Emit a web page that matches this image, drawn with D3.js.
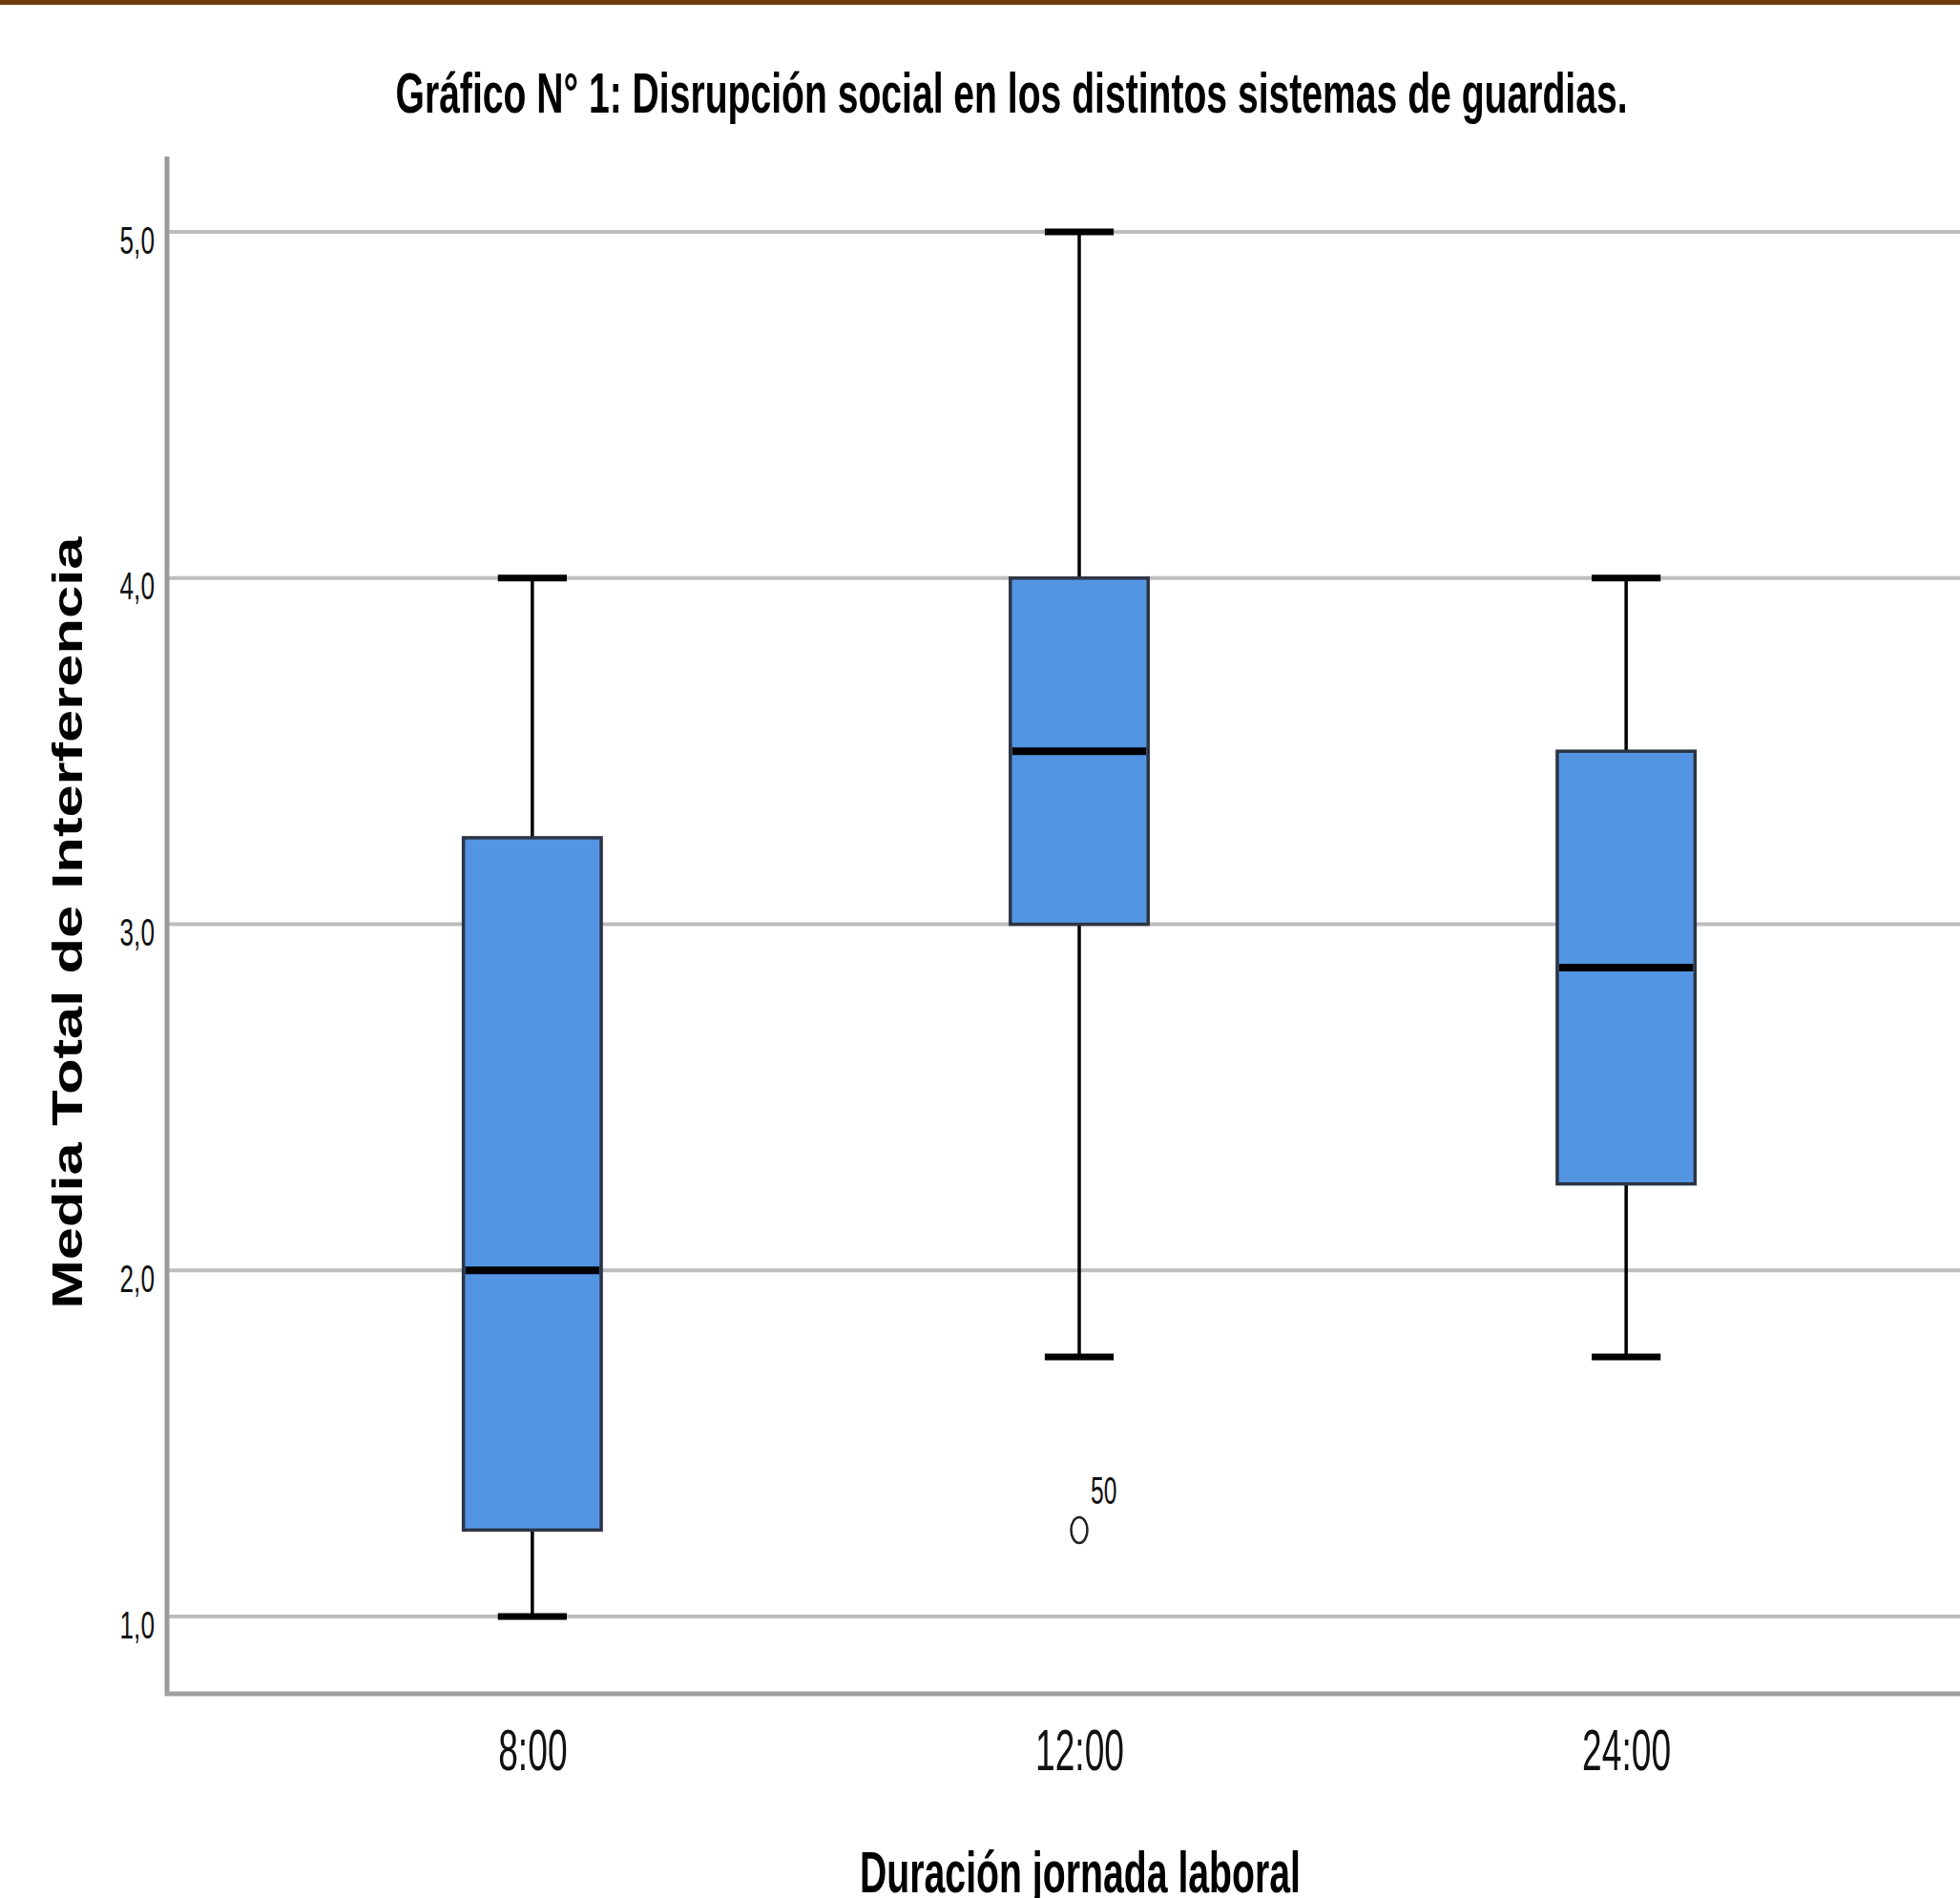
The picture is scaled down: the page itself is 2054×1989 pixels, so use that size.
<!DOCTYPE html>
<html><head><meta charset="utf-8">
<script src="https://cdn.jsdelivr.net/npm/d3@7"></script>
<style>html,body{margin:0;padding:0;background:#fff;overflow:hidden}</style>
</head><body>
<script>
// ---- data ----
const categories = ["8:00", "12:00", "24:00"];
const whiskerLow  = [1.0, 1.75, 1.75];
const q1          = [1.25, 3.0, 2.25];
const median      = [2.0, 3.5, 2.875];
const q3          = [3.25, 4.0, 3.5];
const whiskerHigh = [4.0, 5.0, 4.0];
const outlierCat   = ["12:00"];
const outlierValue = [1.25];
const outlierLabel = ["50"];
const yTicks = [1, 2, 3, 4, 5];
const titleText = "Gráfico N° 1: Disrupción social en los distintos sistemas de guardias.";
const xTitle = "Duración jornada laboral";
const yTitle = "Media Total de Interferencia";

const W = 2054, H = 1989;
const svg = d3.select("body").append("svg").attr("width", W).attr("height", H);
const FONT = "'Liberation Sans', Arial, sans-serif";

// top brown rule
svg.append("rect").attr("x", 0).attr("y", 0).attr("width", W).attr("height", 5).attr("fill", "#6e3b0e");

const x = d3.scalePoint().domain(categories).range([175, 2087]).padding(0.668);
const y = d3.scaleLinear().domain([0.777, 5.218]).range([1775, 164]);
const boxW = x.step() * 0.252;
const capW = boxW * 0.5;

const loc = d3.formatLocale({decimal: ",", thousands: ".", grouping: [3], currency: ["", "€"]});
const fmt = loc.format(".1f");

function condense(sel, factor) {
  sel.each(function() {
    const w = this.getComputedTextLength();
    d3.select(this).attr("textLength", w * factor).attr("lengthAdjust", "spacingAndGlyphs");
  });
}

// gridlines
svg.append("g").selectAll("line").data(yTicks).join("line")
  .attr("x1", 177).attr("x2", W)
  .attr("y1", d => y(d)).attr("y2", d => y(d))
  .attr("stroke", "#bdbdbd").attr("stroke-width", 4);

// y axis
const gy = svg.append("g").attr("transform", "translate(175,0)")
  .call(d3.axisLeft(y).tickValues(yTicks).tickFormat(fmt).tickSize(0).tickPadding(13));
gy.select(".domain").remove();
gy.selectAll("text").attr("font-family", FONT).attr("font-size", 41).attr("fill", "#111").attr("dy", 22)
  .call(condense, 0.64);

// x axis
const gx = svg.append("g").attr("transform", "translate(0,1775)")
  .call(d3.axisBottom(x).tickSize(0));
gx.select(".domain").remove();
gx.selectAll("text").attr("font-family", FONT).attr("font-size", 62).attr("fill", "#111").attr("y", 80).attr("dy", 0)
  .call(condense, 0.6);

// axis lines
svg.append("line").attr("x1", 175).attr("x2", 175).attr("y1", 164).attr("y2", 1777)
  .attr("stroke", "#9a9a9a").attr("stroke-width", 5);
svg.append("line").attr("x1", 173).attr("x2", W).attr("y1", 1775).attr("y2", 1775)
  .attr("stroke", "#a0a0a0").attr("stroke-width", 5);

// boxes
const idx = d3.range(categories.length);
const g = svg.append("g");
// whiskers
g.selectAll(".wl").data(idx).join("line").attr("class", "wl")
  .attr("x1", i => x(categories[i])).attr("x2", i => x(categories[i]))
  .attr("y1", i => y(whiskerHigh[i])).attr("y2", i => y(q3[i]))
  .attr("stroke", "#000").attr("stroke-width", 3.5);
g.selectAll(".wh").data(idx).join("line").attr("class", "wh")
  .attr("x1", i => x(categories[i])).attr("x2", i => x(categories[i]))
  .attr("y1", i => y(q1[i])).attr("y2", i => y(whiskerLow[i]))
  .attr("stroke", "#000").attr("stroke-width", 3.5);
// caps
[whiskerLow, whiskerHigh].forEach(arr => {
  g.append("g").selectAll("line").data(idx).join("line")
    .attr("x1", i => x(categories[i]) - capW / 2).attr("x2", i => x(categories[i]) + capW / 2)
    .attr("y1", i => y(arr[i])).attr("y2", i => y(arr[i]))
    .attr("stroke", "#000").attr("stroke-width", 7);
});
// box
g.selectAll(".box").data(idx).join("rect").attr("class", "box")
  .attr("x", i => x(categories[i]) - boxW / 2).attr("width", boxW)
  .attr("y", i => y(q3[i])).attr("height", i => y(q1[i]) - y(q3[i]))
  .attr("fill", "#5495e3").attr("stroke", "#2c3444").attr("stroke-width", 3.5);
// median
g.selectAll(".med").data(idx).join("line").attr("class", "med")
  .attr("x1", i => x(categories[i]) - boxW / 2 + 2).attr("x2", i => x(categories[i]) + boxW / 2 - 2)
  .attr("y1", i => y(median[i])).attr("y2", i => y(median[i]))
  .attr("stroke", "#000").attr("stroke-width", 8);

// outliers
const oi = d3.range(outlierValue.length);
g.selectAll(".out").data(oi).join("ellipse").attr("class", "out")
  .attr("cx", i => x(outlierCat[i])).attr("cy", i => y(outlierValue[i]))
  .attr("rx", 8.5).attr("ry", 13.5)
  .attr("fill", "none").attr("stroke", "#222").attr("stroke-width", 2.5);
g.selectAll(".outl").data(oi).join("text").attr("class", "outl")
  .attr("x", i => x(outlierCat[i]) + 12).attr("y", i => y(outlierValue[i]) - 27)
  .attr("font-family", FONT).attr("font-size", 41).attr("fill", "#111")
  .text(i => outlierLabel[i]).call(condense, 0.6);

// title
svg.append("text").attr("x", 1060).attr("y", 118).attr("text-anchor", "middle")
  .attr("font-family", FONT).attr("font-size", 59).attr("font-weight", "bold").attr("fill", "#000")
  .attr("textLength", 1291).attr("lengthAdjust", "spacingAndGlyphs")
  .text(titleText);

// x title
svg.append("text").attr("x", 1132).attr("y", 1983).attr("text-anchor", "middle")
  .attr("font-family", FONT).attr("font-size", 62).attr("font-weight", "bold").attr("fill", "#000")
  .attr("textLength", 462).attr("lengthAdjust", "spacingAndGlyphs")
  .text(xTitle);

// y title
svg.append("text").attr("transform", "translate(86,967) rotate(-90)").attr("text-anchor", "middle")
  .attr("font-family", FONT).attr("font-size", 44).attr("font-weight", "bold").attr("fill", "#000")
  .attr("textLength", 809).attr("lengthAdjust", "spacingAndGlyphs")
  .text(yTitle);
</script>
</body></html>
